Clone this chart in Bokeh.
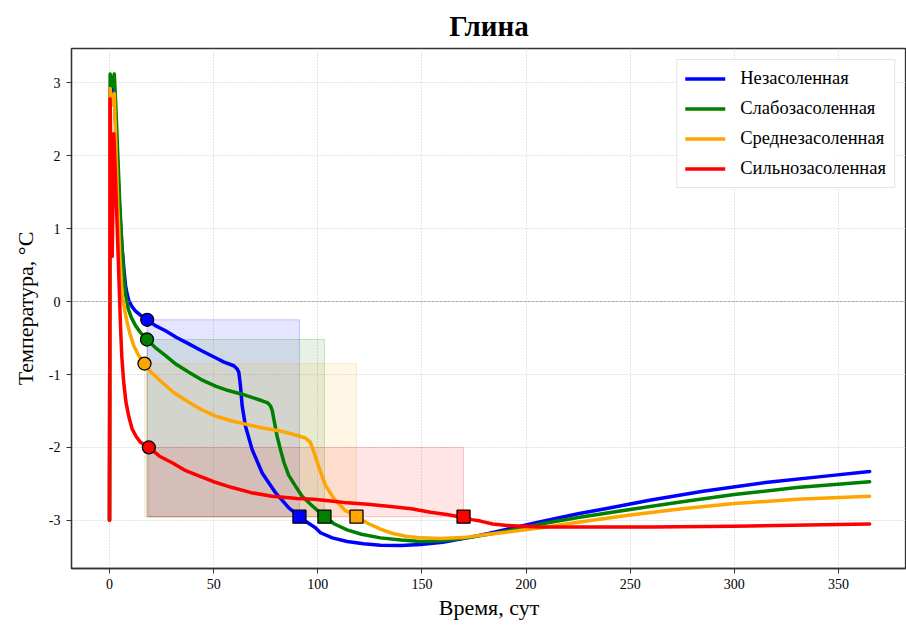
from bokeh.plotting import figure
from bokeh.models import Range1d, Span, Legend, LegendItem, FixedTicker
from bokeh.embed import file_html
from bokeh.resources import INLINE

# ---- data ----
labels = ["Незасоленная", "Слабозасоленная", "Среднезасоленная", "Сильнозасоленная"]
colors = ["#0000ff", "#008000", "#ffa500", "#ff0000"]

days_blue = [0, 0.3, 1.2, 2.2, 3, 4, 5, 6, 7, 7.7, 8.5, 9.3, 10.8, 12.5, 15, 17.9, 22, 26.9, 32,
             38.1, 44, 50.9, 55, 59.7, 61.2, 62.1, 62.9, 63.7, 65.3, 68.5, 73.3, 79.7, 86.1, 90.9,
             94.5, 98.9, 101.3, 107, 114.1, 122, 130.1, 140, 149.3, 160, 171.7, 182, 194.1, 207,
             225, 240, 260, 285, 315, 345, 365]
temp_blue = [-3, 2.9, 2.7, 2.95, 2.4, 1.8, 1.2, 0.75, 0.42, 0.22, 0.1, 0.01, -0.07, -0.13, -0.19,
             -0.25, -0.33, -0.40, -0.49, -0.58, -0.67, -0.77, -0.83, -0.88, -0.92, -0.97, -1.16,
             -1.43, -1.71, -2.03, -2.35, -2.62, -2.83, -2.94, -3.02, -3.10, -3.17, -3.24, -3.29,
             -3.32, -3.34, -3.345, -3.33, -3.30, -3.24, -3.18, -3.10, -3.02, -2.91, -2.83, -2.72,
             -2.60, -2.48, -2.39, -2.33]

days_green = [0, 0.3, 1.2, 2.3, 3, 4, 5, 6, 7, 7.7, 9, 10.5, 12.5, 15, 17.9, 22, 26.9, 32, 38.1,
              44, 50.9, 57, 63.7, 68, 73.3, 76, 77.3, 78.2, 78.9, 80.5, 82.1, 83.7, 86, 89.3, 92.5,
              97.3, 102.9, 108, 114.1, 121, 130.1, 140, 149.3, 160, 171.7, 182, 194.1, 207, 225,
              250, 275, 300, 330, 365]
temp_green = [-3, 3.12, 2.95, 3.12, 2.7, 2.0, 1.3, 0.75, 0.3, 0.1, -0.1, -0.22, -0.33, -0.43,
              -0.52, -0.63, -0.74, -0.86, -0.97, -1.07, -1.16, -1.22, -1.27, -1.31, -1.36, -1.39,
              -1.43, -1.50, -1.61, -1.85, -2.03, -2.20, -2.38, -2.53, -2.67, -2.80, -2.94, -3.05,
              -3.13, -3.19, -3.24, -3.27, -3.29, -3.28, -3.24, -3.19, -3.13, -3.05, -2.96, -2.85,
              -2.745, -2.645, -2.55, -2.47]

days_orange = [0, 0.3, 1.2, 2.3, 3, 4, 5, 6.1, 7.3, 8.5, 10, 11.7, 14, 16.8, 20, 25.3, 31, 38.1,
               44, 50.9, 58, 65.3, 73, 81.3, 88, 94.1, 96.5, 98, 99.7, 101.3, 103.7, 107.7, 113,
               118.6, 124, 130.1, 136, 142.9, 150, 158.9, 171.7, 182, 194.1, 207, 225, 250, 275,
               300, 330, 365]
temp_orange = [-3, 2.92, 2.7, 2.85, 2.2, 1.3, 0.6, 0.08, -0.12, -0.29, -0.46, -0.61, -0.74, -0.85,
               -0.97, -1.11, -1.25, -1.38, -1.48, -1.57, -1.63, -1.68, -1.73, -1.77, -1.82, -1.87,
               -1.93, -2.05, -2.20, -2.33, -2.52, -2.70, -2.86, -2.95, -3.04, -3.12, -3.18, -3.22,
               -3.24, -3.25, -3.23, -3.19, -3.15, -3.10, -3.025, -2.925, -2.84, -2.77, -2.71, -2.67]

days_red = [0, 0.3, 1.3, 2.1, 3, 3.7, 4.3, 4.8, 5.3, 5.9, 6.8, 7.9, 9.3, 10.9, 12.8, 14.9, 18.9,
            24, 30.1, 36, 42.9, 50, 58.9, 68, 78.1, 90, 98.1, 108.5, 114.1, 124, 134.9, 145,
            154.1, 162, 169.8, 174, 178.1, 184, 190.9, 198, 207, 230, 260, 300, 365]
temp_red = [-3, 2.78, 0.62, 2.3, 1.6, 1.0, 0.5, 0.08, -0.35, -0.75, -1.1, -1.38, -1.58, -1.75,
            -1.85, -1.93, -2.0, -2.12, -2.21, -2.31, -2.39, -2.47, -2.55, -2.62, -2.67, -2.70,
            -2.71, -2.74, -2.76, -2.78, -2.81, -2.84, -2.89, -2.92, -2.96, -2.99, -3.01, -3.05,
            -3.07, -3.08, -3.09, -3.09, -3.09, -3.08, -3.05]

start_day = [18.1, 18.0, 16.8, 18.9]
start_temp = [-0.25, -0.52, -0.85, -2.0]
end_day = [91.2, 103.2, 118.6, 170.0]
end_temp = [-2.95, -2.95, -2.95, -2.95]

x_ticks = [0, 50, 100, 150, 200, 250, 300, 350]
y_ticks = [-3, -2, -1, 0, 1, 2, 3]

series_days = [days_blue, days_green, days_orange, days_red]
series_temp = [temp_blue, temp_green, temp_orange, temp_red]

SERIF = "Liberation Serif"

p = figure(width=906, height=627, output_backend="svg", toolbar_location=None,
           x_range=Range1d(-18.25, 382.7), y_range=Range1d(-3.66, 3.47),
           min_border_left=71, min_border_right=0, min_border_top=48, min_border_bottom=59)

p.title.text = "Глина"
p.title.align = "center"
p.title.text_font = SERIF
p.title.text_font_size = "29px"
p.title.text_font_style = "bold"
p.title.text_color = "black"
p.title.standoff = 14

p.outline_line_color = "#333333"
p.outline_line_width = 1.3
p.background_fill_color = "white"
p.border_fill_color = "white"

for ax in (p.xaxis[0], p.yaxis[0]):
    ax.major_label_text_font = SERIF
    ax.major_label_text_font_size = "14px"
    ax.major_label_text_color = "black"
    ax.axis_label_text_font = SERIF
    ax.axis_label_text_font_size = "22px"
    ax.axis_label_text_font_style = "normal"
    ax.axis_label_text_color = "black"
    ax.axis_line_color = "#333333"
    ax.axis_line_width = 1.3
    ax.major_tick_line_color = "#333333"
    ax.major_tick_out = 5
    ax.major_tick_in = 0
    ax.minor_tick_line_color = None

p.xaxis.ticker = FixedTicker(ticks=x_ticks)
p.yaxis.ticker = FixedTicker(ticks=y_ticks)
p.yaxis.major_label_overrides = {float(v): str(v) for v in y_ticks}
p.xaxis.axis_label = "Время, сут"
p.yaxis.axis_label = "Температура, °C"
p.xaxis.major_label_standoff = 5
p.xaxis.axis_label_standoff = 3
p.yaxis.major_label_standoff = 6
p.yaxis.axis_label_standoff = 8

p.grid.grid_line_color = "#b0b0b0"
p.grid.grid_line_alpha = 0.7
p.grid.grid_line_dash = "1 2"
p.grid.grid_line_width = 1

p.add_layout(Span(location=0, dimension="width", line_color="gray", line_alpha=0.6,
                  line_width=1, line_dash="3 1"))

# shaded phase-transition rectangles
for i in range(4):
    p.quad(left=[start_day[i]], right=[end_day[i]], bottom=[end_temp[i]], top=[start_temp[i]],
           fill_color=colors[i], fill_alpha=0.1, line_color=colors[i], line_alpha=0.2,
           line_width=1)

items = []
for i in range(4):
    r = p.line(series_days[i], series_temp[i], line_color=colors[i], line_width=3.5,
               line_join="round", line_cap="round")
    items.append(LegendItem(label=labels[i], renderers=[r]))

for i in range(4):
    p.scatter([start_day[i]], [start_temp[i]], marker="circle", size=13, fill_color=colors[i],
              line_color="black", line_width=1.3)
    p.scatter([end_day[i]], [end_temp[i]], marker="square", size=13, fill_color=colors[i],
              line_color="black", line_width=1.3)

legend = Legend(items=items, location="top_right")
legend.label_text_font = SERIF
legend.label_text_font_size = "18.5px"
legend.label_text_color = "black"
legend.glyph_width = 40
legend.glyph_height = 19
legend.label_height = 19
legend.label_standoff = 15
legend.spacing = 9
legend.padding = 8
legend.margin = 11
legend.border_line_color = "#cccccc"
legend.border_line_width = 1
legend.background_fill_alpha = 0.9
p.add_layout(legend)

open("out.html", "w").write(file_html(p, INLINE))
